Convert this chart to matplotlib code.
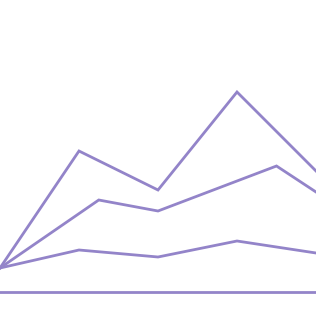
import matplotlib
matplotlib.use("Agg")
import matplotlib.pyplot as plt

# values (height above the baseline)
x_top = [0, 4, 8, 12, 16]
y_top = [24, 141, 102, 200, 121]

x_mid = [0, 5, 8, 14, 16]
y_mid = [24, 92, 81, 126, 100]

x_low = [0, 4, 8, 12, 16]
y_low = [24, 42, 35, 51, 39]

color = '#9384c9'

fig = plt.figure(figsize=(3.16, 3.16), dpi=100)
ax = fig.add_axes([0, 0, 1, 1])

for xs, ys in ((x_top, y_top), (x_mid, y_mid), (x_low, y_low)):
    ax.plot(xs, ys, color=color, lw=2.0, solid_joinstyle='miter')

ax.axhline(0, color=color, lw=2.0)

ax.set_xlim(0, 16)
ax.set_ylim(-24, 292)
ax.axis('off')

fig.savefig('out.png', dpi=100)
